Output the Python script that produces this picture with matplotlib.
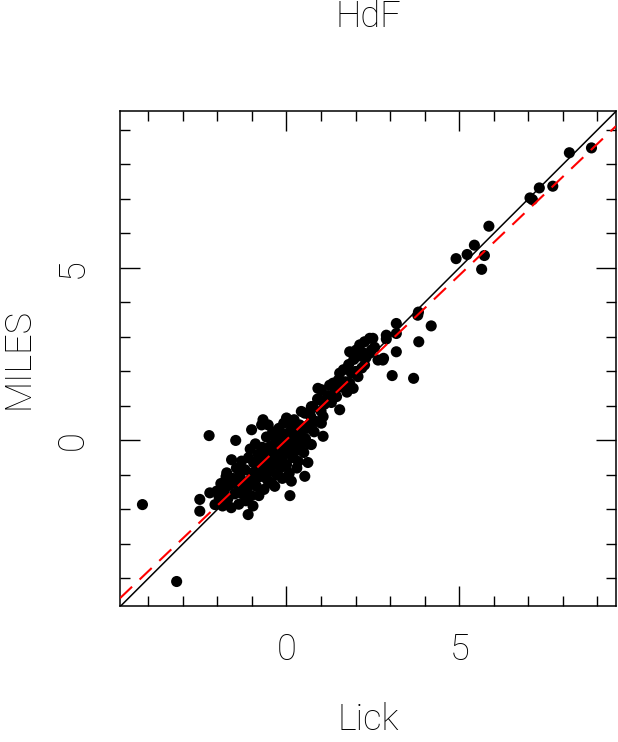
import matplotlib
matplotlib.use("Agg")
import matplotlib.pyplot as plt
from matplotlib.ticker import MultipleLocator

# ---- data ----
title = "HdF"
xlabel = "Lick"
ylabel = "MILES"
x_range = [-4.82, 9.54]
y_range = [-4.80, 9.55]
major_ticks = [0, 5]

fit_slope = 0.953
fit_intercept = 0.02

lick = [
    -4.17, -3.18, -2.24, -1.47, -1.01,
    -2.51, -2.51, -2.07, -2.02, -2.22, -1.95, -1.90, -1.85, -1.80, -1.75, -1.73, -1.70,
    -1.65, -1.60, -1.59, -1.55, -1.50, -1.45, -1.40, -1.38, -1.35, -1.30, -1.28, -1.25,
    -1.20, -1.18, -1.15, -1.11, -1.10, -1.06, -1.05, -1.02, -1.00, -0.97, -0.95, -0.92,
    -0.90, -0.87, -0.85, -0.82, -0.80, -0.78, -0.75, -0.72, -0.70, -0.68, -0.68, -0.65,
    -0.62, -0.60, -0.58, -0.55, -0.53, -0.50, -0.48, -0.45, -0.42, -0.40, -0.38, -0.35,
    -0.34, -0.30, -0.28, -0.25, -0.22, -0.20, -0.18, -0.15, -0.12, -0.10, -0.08, -0.05,
    0.00, 0.00, 0.02, 0.05, 0.08, 0.10, 0.12, 0.14, 0.15, 0.18, 0.20, 0.22, 0.25, 0.28,
    0.30, 0.34, 0.35, 0.38, 0.40, 0.43, 0.45, 0.50, 0.53, 0.53, 0.55, 0.60, 0.62, 0.65,
    0.67, 0.70, 0.72, 0.72, 0.77, 0.80, 0.85, 0.90, 0.91, 0.96, 1.00, 1.01, 1.01, 1.06,
    1.06, 1.10, 1.20, 1.25, 1.30, 1.35, 1.40, 1.45, 1.50, 1.54, 1.54, 1.60, 1.65, 1.70,
    1.75, 1.80, 1.83, 1.83, 1.88, 1.93, 1.95, 2.00, 2.02, 2.07, 2.10, 2.12, 2.18, 2.20,
    2.26, 2.26, 2.30, 2.41, 2.41, 2.46, 2.50, 2.55, 2.65, 2.79, 2.81, 2.89, 2.89, 3.06,
    3.68, 3.18, 3.18, 3.18, 3.83, 3.80, 3.82, 4.19,
    4.91, 5.23, 5.44, 5.73, 5.65, 5.86, 7.05, 7.12, 7.32, 7.71, 8.19, 8.83,
]
miles = [
    -1.86, -4.09, 0.14, 0.00, 0.31,
    -1.71, -2.05, -1.86, -1.47, -1.52, -1.65, -1.25, -1.90, -1.45, -1.05, -0.94, -1.70,
    -1.30, -1.95, -0.56, -1.10, -1.55, -0.80, -1.30, -1.85, -1.00, -0.60, -1.55, -1.20,
    -0.85, -1.75, -1.40, -2.15, -0.50, -1.14, -0.25, -1.60, -0.95, -1.90, -0.65, -1.25,
    -0.10, -1.33, -0.85, -0.40, -1.60, -1.05, -0.60, 0.45, -0.20, -1.04, 0.60, -1.42,
    -0.75, -0.35, 0.10, -1.15, 0.45, -0.55, -0.90, -0.15, -1.25, 0.25, -0.70, -0.35,
    -1.33, 0.05, -1.00, -0.55, 0.35, -0.20, -0.80, 0.10, -1.10, -0.45, 0.50, -0.15,
    0.65, -0.70, 0.20, -0.35, -0.95, -1.60, 0.00, -1.18, 0.40, -0.50, -0.15, 0.60, 0.20, -0.30,
    -0.80, -0.61, 0.10, 0.45, -0.10, 0.84, 0.30, -0.35, -1.04, 0.79, 0.05, 0.35, -0.64, -0.10,
    0.45, 0.70, -0.12, 0.98, 0.98, 0.25, 0.55, 1.20, 1.51, 1.18, 0.85, 0.50, 1.47, 0.12,
    0.69, 1.05, 1.30, 1.60, 1.10, 1.66, 1.40, 1.27, 1.75, 0.89, 1.95, 1.55, 2.05, 1.70,
    1.40, 2.20, 1.66, 2.57, 1.95, 1.51, 2.35, 2.00, 2.62, 1.85, 2.45, 2.77, 2.10, 2.55,
    2.19, 2.86, 2.40, 2.53, 2.96, 2.62, 2.96, 2.70, 2.33, 2.33, 2.38, 2.94, 3.05, 1.88,
    1.80, 2.57, 3.10, 3.39, 2.86, 3.63, 3.72, 3.32,
    5.27, 5.39, 5.66, 5.36, 4.96, 6.21, 7.03, 6.98, 7.32, 7.37, 8.34, 8.48,
]

# ---- figure ----
W, H = 618, 742
fig = plt.figure(figsize=(W / 100, H / 100), dpi=100)
ax_l, ax_r, ax_t, ax_b = 120, 616, 111, 606
ax = fig.add_axes([ax_l / W, 1 - ax_b / H, (ax_r - ax_l) / W, (ax_b - ax_t) / H])

font = dict(family=["Roboto", "DejaVu Sans"], weight="light", size=26, color="black")

ax.scatter(lick, miles, s=64, c="black", edgecolors="none", zorder=3)
ax.axline((0, 0), slope=1, color="black", lw=1.1, zorder=2)
ax.axline((0, fit_intercept), slope=fit_slope, color="#ff0000", lw=1.5,
          dashes=(8, 5), zorder=4)

ax.set_xlim(*x_range)
ax.set_ylim(*y_range)
ax.xaxis.set_minor_locator(MultipleLocator(1))
ax.yaxis.set_minor_locator(MultipleLocator(1))
ax.set_xticks(major_ticks)
ax.set_yticks(major_ticks)
ax.set_xticklabels([str(t) for t in major_ticks], **font)
ax.set_yticklabels([str(t) for t in major_ticks], rotation=90, va="center", **font)
ax.tick_params(which="both", direction="in", top=True, right=True, width=1.0, color="black")
ax.tick_params(which="major", length=14.5)
ax.tick_params(which="minor", length=7.2)
ax.tick_params(axis="x", which="major", pad=19)
ax.tick_params(axis="y", which="major", pad=21)
for sp in ax.spines.values():
    sp.set_linewidth(1.1)

cx = (ax_l + ax_r) / 2 / W
fig.text(cx, 1 - 17 / H, title, ha="center", va="center", **font)
fig.text(cx, 1 - 720 / H, xlabel, ha="center", va="center", **font)
fig.text(19 / W, 1 - 358 / H, ylabel, ha="center", va="center", rotation=90, **font)

fig.savefig("out.png", dpi=100)
